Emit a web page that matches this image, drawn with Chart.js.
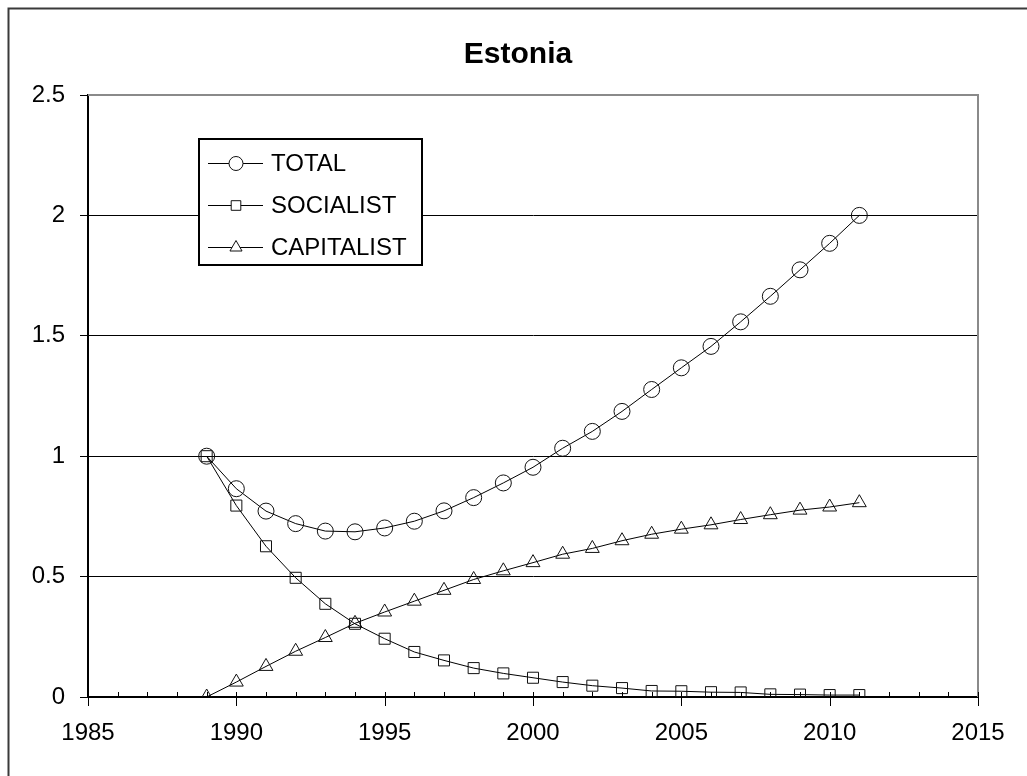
<!DOCTYPE html>
<html>
<head>
<meta charset="utf-8">
<script src="https://cdn.jsdelivr.net/npm/chart.js@4.4.1/dist/chart.umd.min.js"></script>
<style>
  html, body { margin: 0; padding: 0; background: #fff; }
  #wrap { width: 1027px; height: 776px; position: relative; }
</style>
</head>
<body>
<div id="wrap"><canvas id="c" width="1027" height="776"></canvas></div>
<script>
const title = "Estonia";
const years = [1989,1990,1991,1992,1993,1994,1995,1996,1997,1998,1999,2000,2001,2002,2003,2004,2005,2006,2007,2008,2009,2010,2011];
const total = [1.0,0.865,0.772,0.72,0.689,0.686,0.702,0.73,0.773,0.828,0.889,0.954,1.033,1.103,1.186,1.277,1.367,1.456,1.558,1.664,1.774,1.884,2.0];
const socialist = [1.0,0.795,0.626,0.495,0.387,0.304,0.242,0.187,0.152,0.12,0.098,0.08,0.062,0.047,0.037,0.025,0.024,0.02,0.019,0.011,0.01,0.008,0.008];
const capitalist = [0,0.062,0.127,0.19,0.247,0.306,0.353,0.398,0.443,0.488,0.524,0.558,0.593,0.617,0.649,0.676,0.697,0.715,0.737,0.757,0.776,0.789,0.807];
const seriesNames = ["TOTAL","SOCIALIST","CAPITALIST"];
const xMin = 1985, xMax = 2015, xStep = 5;
const yMin = 0, yMax = 2.5, yStep = 0.5;

const FONT = "'Liberation Sans', Arial, sans-serif";
const pts = arr => years.map((y, i) => ({x: y, y: arr[i]}));

function ds(label, data, style, radius) {
  return {
    label, data: pts(data),
    borderColor: '#000', borderWidth: 1,
    pointStyle: style, pointRadius: radius, pointHoverRadius: radius,
    pointBorderColor: '#111', pointBackgroundColor: 'rgba(0,0,0,0)', pointBorderWidth: 1,
    tension: 0, fill: false
  };
}

const framePlugin = {
  id: 'frame',
  beforeDraw(chart) {
    const ctx = chart.ctx;
    ctx.save();
    ctx.fillStyle = '#fff';
    ctx.fillRect(0, 0, chart.width, chart.height);
    ctx.strokeStyle = '#3a3a3a';
    ctx.lineWidth = 2;
    ctx.beginPath();
    ctx.moveTo(8.5, chart.height + 5);
    ctx.lineTo(8.5, 8.5);
    ctx.lineTo(chart.width + 5, 8.5);
    ctx.stroke();
    ctx.restore();
  },
  afterDraw(chart) {
    const ctx = chart.ctx, a = chart.chartArea;
    const xs = chart.scales.x;
    ctx.save();
    // plot border (top & right)
    ctx.strokeStyle = '#8a8a8a';
    ctx.lineWidth = 2;
    ctx.beginPath();
    ctx.moveTo(a.left, a.top);
    ctx.lineTo(a.right, a.top);
    ctx.lineTo(a.right, a.bottom);
    ctx.stroke();
    // x axis minor/major ticks
    ctx.strokeStyle = '#000';
    ctx.lineWidth = 1;
    for (let v = xMin; v <= xMax; v++) {
      const px = Math.round(xs.getPixelForValue(v)) + 0.5;
      ctx.beginPath();
      if (v % xStep === 0) { ctx.moveTo(px, a.bottom - 5); ctx.lineTo(px, a.bottom + 9); }
      else { ctx.moveTo(px, a.bottom - 5); ctx.lineTo(px, a.bottom); }
      ctx.stroke();
    }
    // title
    ctx.fillStyle = '#000';
    ctx.font = 'bold 30px ' + FONT;
    ctx.textAlign = 'center';
    ctx.textBaseline = 'alphabetic';
    ctx.fillText(title, 518, 63);
    // legend
    const lx = 199, ly = 139, lw = 223, lh = 126;
    ctx.fillStyle = '#fff';
    ctx.fillRect(lx, ly, lw, lh);
    ctx.strokeStyle = '#000';
    ctx.lineWidth = 2;
    ctx.strokeRect(lx, ly, lw, lh);
    const rows = [163, 205, 247];
    ctx.font = '24px ' + FONT;
    ctx.textAlign = 'left';
    ctx.textBaseline = 'middle';
    chart.data.datasets.forEach((d, i) => {
      const y = rows[i] + 0.5;
      ctx.strokeStyle = '#000';
      ctx.lineWidth = 1;
      ctx.beginPath();
      ctx.moveTo(208, y); ctx.lineTo(263, y);
      ctx.stroke();
      ctx.fillStyle = '#fff';
      ctx.strokeStyle = '#111';
      ctx.lineWidth = 1;
      Chart.helpers.drawPoint(ctx, {pointStyle: d.pointStyle, radius: d.pointRadius - 1, borderWidth: 1, rotation: 0}, 236, y);
      ctx.fillStyle = '#000';
      ctx.fillText(d.label, 271, rows[i] + 1);
    });
    ctx.restore();
  }
};

new Chart(document.getElementById('c'), {
  type: 'line',
  data: {
    datasets: [
      ds(seriesNames[0], total, 'circle', 8),
      ds(seriesNames[1], socialist, 'rect', 7.8),
      ds(seriesNames[2], capitalist, 'triangle', 8)
    ]
  },
  plugins: [framePlugin],
  options: {
    responsive: false,
    animation: false,
    devicePixelRatio: 1,
    layout: { padding: { top: 95, right: 49, left: 0, bottom: 0 } },
    plugins: { legend: { display: false }, title: { display: false }, tooltip: { enabled: false } },
    scales: {
      x: {
        type: 'linear', min: xMin, max: xMax,
        afterFit(s) { s.height = 79; },
        border: { display: true, color: '#000', width: 2 },
        grid: { display: true, drawOnChartArea: false, drawTicks: true, tickLength: 8, color: 'rgba(0,0,0,0)' },
        ticks: { stepSize: xStep, padding: 14, color: '#000', font: { family: FONT, size: 24 }, callback: v => String(v), maxRotation: 0, autoSkip: false }
      },
      y: {
        min: yMin, max: yMax,
        afterFit(s) { s.width = 88; },
        border: { display: true, color: '#000', width: 2 },
        grid: {
          display: true, drawOnChartArea: true, drawTicks: true, tickLength: 8,
          color: c => (c.tick && (c.tick.value === yMax || c.tick.value === yMin)) ? 'rgba(0,0,0,0)' : '#000',
          tickColor: '#000', lineWidth: 1
        },
        ticks: { stepSize: yStep, padding: 15, color: '#000', font: { family: FONT, size: 24 }, callback: v => String(v) }
      }
    }
  }
});
</script>
</body>
</html>
